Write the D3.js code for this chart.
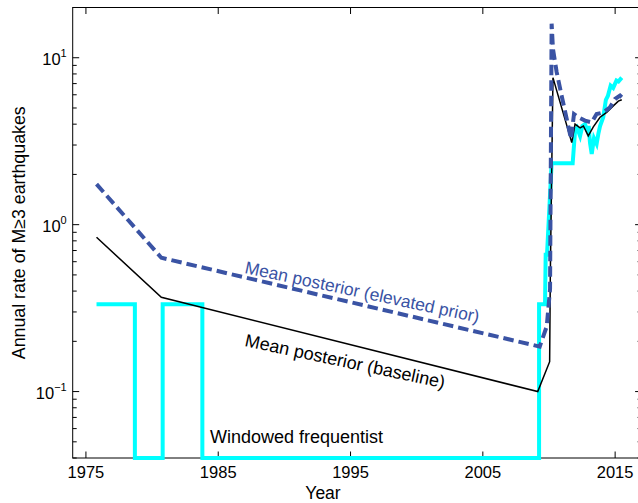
<!DOCTYPE html>
<html>
<head>
<meta charset="utf-8">
<script src="https://cdn.jsdelivr.net/npm/d3@7"></script>
<style>
  body { margin: 0; background: #fff; }
  text { font-family: "Liberation Sans", Arial, Helvetica, sans-serif; fill: #000; }
</style>
</head>
<body>
<svg id="chart" width="638" height="503"></svg>
<script>
// Mean posterior, baseline prior
const baselineYears = [1975.8, 1980.7, 2009.15, 2010.05, 2010.1, 2010.3, 2011.72, 2011.97, 2012.35, 2012.6, 2012.97, 2013.35, 2013.86, 2014.36, 2014.86, 2015.24, 2015.5];
const baselineRates = [0.84, 0.367, 0.100, 0.151, 0.5, 7.6, 3.1, 4.0, 3.8, 3.9, 3.4, 3.85, 4.4, 4.7, 5.15, 5.5, 5.6];

// Mean posterior, elevated prior
const elevatedYears = [1975.8, 1980.7, 2009.3, 2009.83, 2010.08, 2010.2, 2010.3, 2010.58, 2010.96, 2011.34, 2011.67, 2011.89, 2012.22, 2012.72, 2013.23, 2013.6, 2014.1, 2014.61, 2014.99, 2015.37, 2015.5];
const elevatedRates = [1.75, 0.633, 0.186, 0.246, 0.41, 16.0, 11.3, 8.2, 5.9, 4.3, 3.26, 4.6, 4.4, 4.2, 4.1, 4.6, 4.7, 5.05, 5.66, 5.93, 5.8];

// Windowed frequentist (0.04 = zero, sits on the lower limit)
const freqYears = [1975.8, 1978.7, 1978.7, 1980.8, 1980.8, 1983.8, 1983.8, 2009.25, 2009.25, 2009.7, 2009.75, 2009.85, 2010.2, 2011.79, 2011.97, 2012.12, 2012.35, 2012.52, 2012.72, 2012.9, 2013.0, 2013.1, 2013.23, 2013.4, 2013.6, 2013.73, 2013.86, 2014.1, 2014.3, 2014.45, 2014.66, 2014.85, 2015.1, 2015.25, 2015.5];
const freqRates = [0.333, 0.333, 0.04, 0.04, 0.333, 0.333, 0.04, 0.04, 0.333, 0.333, 0.66, 0.66, 2.33, 2.33, 3.65, 3.8, 3.4, 3.9, 4.0, 3.65, 3.9, 3.1, 2.65, 3.3, 3.05, 3.5, 3.9, 4.4, 5.6, 5.9, 6.8, 6.6, 7.3, 7.2, 7.6];

const xTicks = [1975, 1985, 1995, 2005, 2015];
const yMajor = [0.1, 1, 10];
const yMinor = [0.04, 0.05, 0.06, 0.07, 0.08, 0.09, 0.2, 0.3, 0.4, 0.5, 0.6, 0.7, 0.8, 0.9, 2, 3, 4, 5, 6, 7, 8, 9, 20];
const yExponents = [-1, 0, 1];

const svg = d3.select("#chart");

// the axes box runs a little past the right edge of the picture
const plot = { left: 72.7, right: 641.6, top: 7.5, bottom: 458 };
const majorLen = 6.5;
const minorLen = 4;

const x = d3.scaleLinear().domain([1974, 2017]).range([plot.left, plot.right]);
const y = d3.scaleLog().domain([0.04, 20]).range([plot.bottom, plot.top]);

// frame
svg.append("rect")
    .attr("x", plot.left)
    .attr("y", plot.top)
    .attr("width", plot.right - plot.left)
    .attr("height", plot.bottom - plot.top)
    .attr("fill", "none")
    .attr("stroke", "#000")
    .attr("stroke-width", 1);

// x ticks, bottom and top
xTicks.forEach(t => {
    svg.append("line")
        .attr("x1", x(t)).attr("x2", x(t))
        .attr("y1", plot.bottom).attr("y2", plot.bottom - majorLen)
        .attr("stroke", "#000");
    svg.append("line")
        .attr("x1", x(t)).attr("x2", x(t))
        .attr("y1", plot.top).attr("y2", plot.top + majorLen)
        .attr("stroke", "#000");
    svg.append("text")
        .attr("x", x(t))
        .attr("y", plot.bottom + 20)
        .attr("text-anchor", "middle")
        .attr("font-size", 16.5)
        .text(t);
});

// y ticks, left and right
function yTick(v, len) {
    svg.append("line")
        .attr("x1", plot.left).attr("x2", plot.left + len)
        .attr("y1", y(v)).attr("y2", y(v))
        .attr("stroke", "#000");
    svg.append("line")
        .attr("x1", plot.right).attr("x2", plot.right - len)
        .attr("y1", y(v)).attr("y2", y(v))
        .attr("stroke", "#000");
}
yMajor.forEach(v => yTick(v, majorLen));
yMinor.forEach(v => yTick(v, minorLen));

yMajor.forEach((v, i) => {
    const label = svg.append("text")
        .attr("x", plot.left - 6)
        .attr("y", y(v) + 7)
        .attr("text-anchor", "end")
        .attr("font-size", 16.5);
    label.append("tspan").text("10");
    label.append("tspan")
        .attr("font-size", 11)
        .attr("dy", -8)
        .text(yExponents[i] < 0 ? "\u2212" + Math.abs(yExponents[i]) : yExponents[i]);
});

// axis titles
svg.append("text")
    .attr("x", 323)
    .attr("y", 499)
    .attr("text-anchor", "middle")
    .attr("font-size", 17.5)
    .text("Year");

svg.append("text")
    .attr("transform", `translate(24.5, ${(plot.top + plot.bottom) / 2}) rotate(-90)`)
    .attr("text-anchor", "middle")
    .attr("font-size", 17.8)
    .text("Annual rate of M\u22653 earthquakes");

// series
const line = d3.line()
    .x(d => x(d[0]))
    .y(d => y(d[1]));

svg.append("path")
    .datum(d3.zip(freqYears, freqRates))
    .attr("d", line)
    .attr("fill", "none")
    .attr("stroke", "#00ffff")
    .attr("stroke-width", 4)
    .attr("stroke-linejoin", "miter");

svg.append("path")
    .datum(d3.zip(baselineYears, baselineRates))
    .attr("d", line)
    .attr("fill", "none")
    .attr("stroke", "#000")
    .attr("stroke-width", 1.5);

svg.append("path")
    .datum(d3.zip(elevatedYears, elevatedRates))
    .attr("d", line)
    .attr("fill", "none")
    .attr("stroke", "#3a53a4")
    .attr("stroke-width", 4)
    .attr("stroke-dasharray", "10.5,5");

// annotations
svg.append("text")
    .attr("transform", "translate(244, 273) rotate(12)")
    .attr("font-size", 17.5)
    .style("fill", "#3a53a4")
    .text("Mean posterior (elevated prior)");

svg.append("text")
    .attr("transform", "translate(244, 346) rotate(12)")
    .attr("font-size", 18)
    .text("Mean posterior (baseline)");

svg.append("text")
    .attr("x", 210)
    .attr("y", 443)
    .attr("font-size", 18)
    .text("Windowed frequentist");
</script>
</body>
</html>
